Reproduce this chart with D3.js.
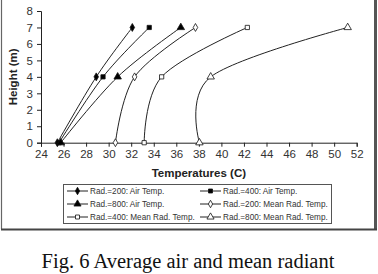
<!DOCTYPE html>
<html>
<head>
<meta charset="utf-8">
<script src="https://cdn.jsdelivr.net/npm/d3@7"></script>
<style>
body { margin: 0; background: #fff; }
svg { display: block; }
</style>
</head>
<body>
<script>
// chart values
var heights = [0, 4, 7];
var seriesNames = ["Rad.=200: Air Temp.", "Rad.=400: Air Temp.", "Rad.=800: Air Temp.",
  "Rad.=200: Mean Rad. Temp.", "Rad.=400: Mean Rad. Temp.", "Rad.=800: Mean Rad. Temp."];
var air200 = [25.45, 28.9, 32.1];
var air400 = [25.6, 29.5, 33.6];
var air800 = [25.75, 30.8, 36.4];
var mrt200 = [30.6, 32.3, 37.7];
var mrt400 = [33.15, 34.7, 42.3];
var mrt800 = [38.05, 39.05, 51.2];
var xTicks = [24, 26, 28, 30, 32, 34, 36, 38, 40, 42, 44, 46, 48, 50, 52];
var yTicks = [0, 1, 2, 3, 4, 5, 6, 7, 8];
var caption = "Fig. 6 Average air and mean radiant";

var allSeries = [air200, air400, air800, mrt200, mrt400, mrt800];
var markers = [
  {type: d3.symbolDiamond, fill: "#000"},
  {type: d3.symbolSquare, fill: "#000"},
  {type: d3.symbolTriangle, fill: "#000"},
  {type: d3.symbolDiamond, fill: "#fff"},
  {type: d3.symbolSquare, fill: "#fff"},
  {type: d3.symbolTriangle, fill: "#fff"}
];

var width = 378, height = 274;

var svg = d3.select("body").append("svg")
  .attr("width", width).attr("height", height);

// outer frame
svg.append("line").attr("x1", 1.5).attr("x2", 1.5).attr("y1", 0).attr("y2", 229)
  .attr("stroke", "#666").attr("stroke-width", 1.2);
svg.append("line").attr("x1", 375.5).attr("x2", 375.5).attr("y1", 0).attr("y2", 230)
  .attr("stroke", "#555").attr("stroke-width", 3);
svg.append("line").attr("x1", 1).attr("x2", 377).attr("y1", 229.5).attr("y2", 229.5)
  .attr("stroke", "#444").attr("stroke-width", 2);

var x = d3.scaleLinear().domain([24, 52]).range([41, 356.7]);
var y = d3.scaleLinear().domain([0, 8]).range([142.7, 11]);

var g = svg.append("g");

var xAxis = g.append("g")
  .attr("transform", "translate(0," + y(0) + ")")
  .call(d3.axisBottom(x).tickValues(xTicks).tickSize(4).tickPadding(3).tickFormat(d3.format("d")));
var yAxis = g.append("g")
  .attr("transform", "translate(" + x(24) + ",0)")
  .call(d3.axisLeft(y).tickValues(yTicks).tickSize(4).tickPadding(4).tickFormat(d3.format("d")));

[xAxis, yAxis].forEach(function(a) {
  a.select(".domain").attr("stroke", "#222");
  a.selectAll(".tick line").attr("stroke", "#222");
  a.selectAll("text").attr("font-family", "Liberation Sans, Arial, sans-serif")
    .attr("font-size", 11.5).attr("fill", "#333");
});

svg.append("text")
  .attr("x", (x(24) + x(52)) / 2).attr("y", 177)
  .attr("text-anchor", "middle")
  .attr("font-family", "Liberation Sans, Arial, sans-serif")
  .attr("font-weight", "bold").attr("font-size", 11.5).attr("fill", "#222")
  .text("Temperatures (C)");

svg.append("text")
  .attr("transform", "translate(17," + y(4) + ") rotate(-90)")
  .attr("text-anchor", "middle")
  .attr("font-family", "Liberation Sans, Arial, sans-serif")
  .attr("font-weight", "bold").attr("font-size", 11.5).attr("fill", "#222")
  .text("Height (m)");

var line = d3.line()
  .x(function(d) { return x(d[0]); })
  .y(function(d) { return y(d[1]); })
  .curve(d3.curveCardinal.tension(0));

allSeries.forEach(function(vals, i) {
  var pts = vals.map(function(v, j) { return [v, heights[j]]; });
  g.append("path").datum(pts)
    .attr("d", line).attr("fill", "none").attr("stroke", "#222").attr("stroke-width", 1);
  g.selectAll(".m" + i).data(pts).enter().append("path")
    .attr("transform", function(d) { return "translate(" + x(d[0]) + "," + y(d[1]) + ")"; })
    .attr("d", d3.symbol().type(markers[i].type).size(markers[i].type === d3.symbolTriangle ? 24 : 18))
    .attr("fill", markers[i].fill).attr("stroke", "#111").attr("stroke-width", 0.8);
});

// legend
var lg = svg.append("g");
lg.append("rect").attr("x", 63.5).attr("y", 184.5).attr("width", 268).attr("height", 39)
  .attr("fill", "#fff").attr("stroke", "#555").attr("stroke-width", 1);
seriesNames.forEach(function(name, i) {
  var col = i % 2, row = Math.floor(i / 2);
  var lx = col === 0 ? 67 : 200;
  var ly = 191 + row * 13;
  lg.append("line").attr("x1", lx).attr("x2", lx + 21).attr("y1", ly).attr("y2", ly)
    .attr("stroke", "#222").attr("stroke-width", 1);
  lg.append("path").attr("transform", "translate(" + (lx + 10.5) + "," + ly + ")")
    .attr("d", d3.symbol().type(markers[i].type).size(markers[i].type === d3.symbolTriangle ? 22 : 16))
    .attr("fill", markers[i].fill).attr("stroke", "#111").attr("stroke-width", 0.8);
  lg.append("text").attr("x", lx + 23).attr("y", ly).attr("dy", "0.35em")
    .attr("font-family", "Liberation Sans, Arial, sans-serif")
    .attr("font-size", 8.2).attr("fill", "#333")
    .text(name);
});

svg.append("text")
  .attr("x", 188).attr("y", 268)
  .attr("text-anchor", "middle")
  .attr("font-family", "Liberation Serif, Times New Roman, serif")
  .attr("font-size", 20.5).attr("fill", "#111")
  .text(caption);
</script>
</body>
</html>
